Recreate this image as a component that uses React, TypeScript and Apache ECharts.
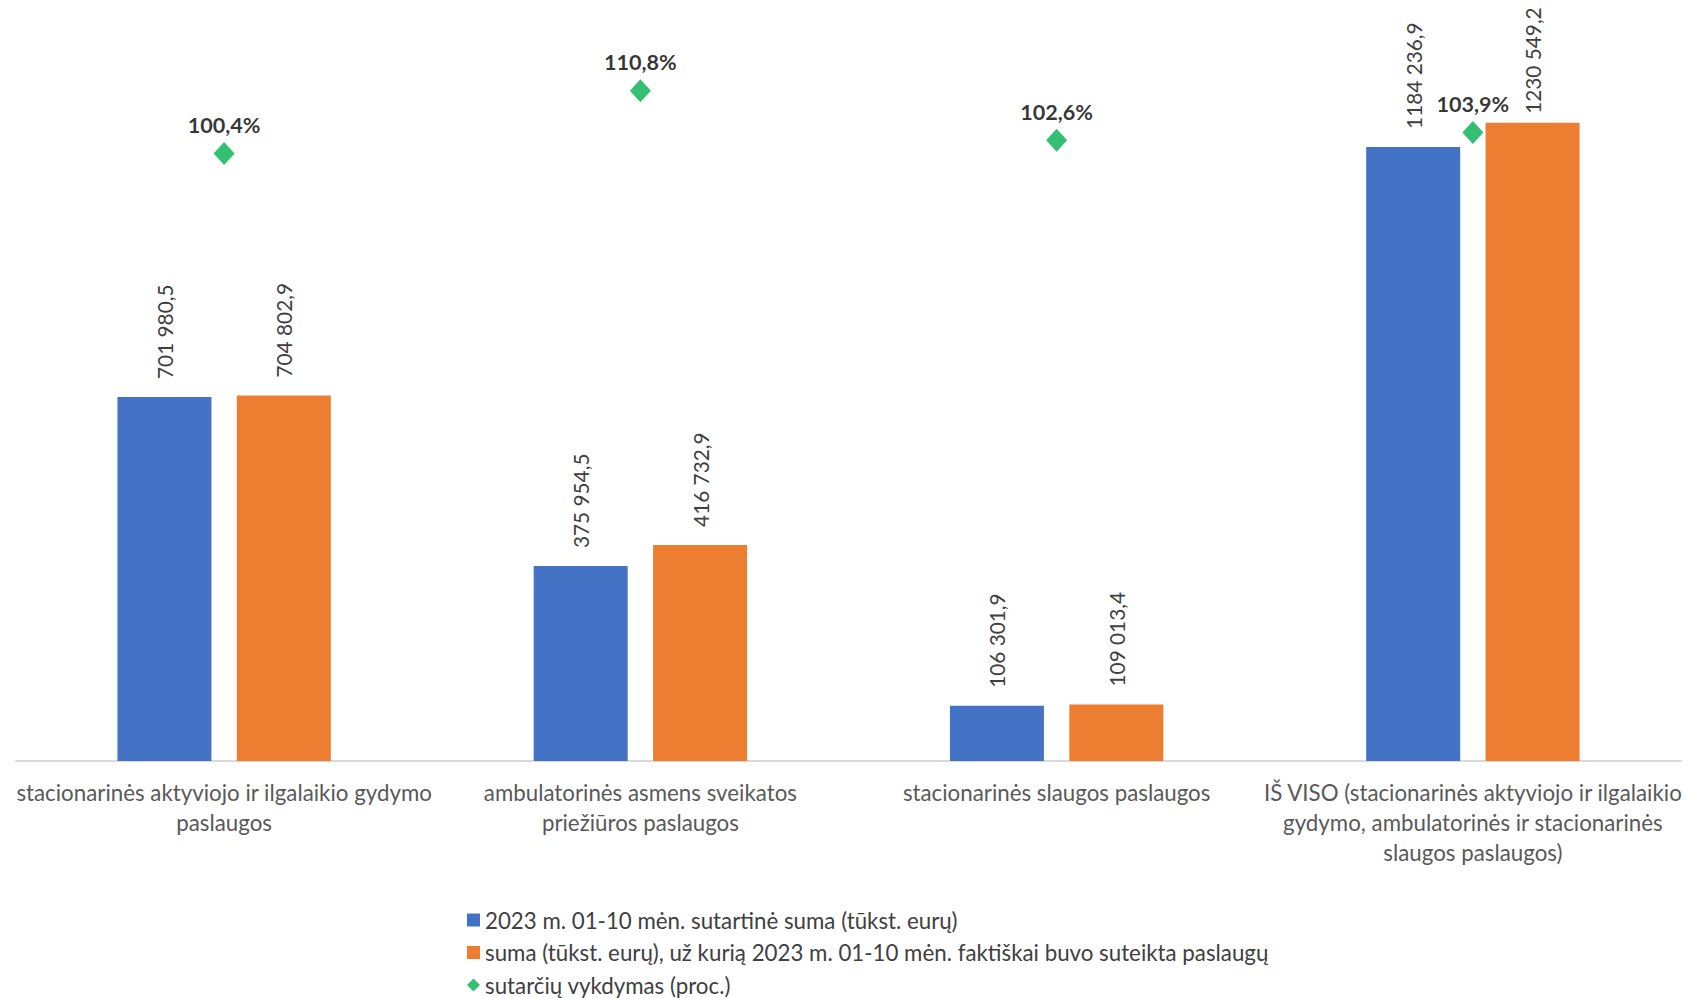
import React, { useEffect, useRef } from "react";
import * as echarts from "echarts";

const categories = [
  "stacionarinės aktyviojo ir ilgalaikio gydymo\npaslaugos",
  "ambulatorinės asmens sveikatos\npriežiūros paslaugos",
  "stacionarinės slaugos paslaugos",
  "IŠ VISO (stacionarinės aktyviojo ir ilgalaikio\ngydymo, ambulatorinės ir stacionarinės\nslaugos paslaugos)",
];
const contractSum = [701980.5, 375954.5, 106301.9, 1184236.9];
const providedSum = [704802.9, 416732.9, 109013.4, 1230549.2];
const fulfilment = [100.4, 110.8, 102.6, 103.9];

const seriesNames = [
  "2023 m. 01-10 mėn. sutartinė suma (tūkst. eurų)",
  "suma (tūkst. eurų), už kurią 2023 m. 01-10 mėn. faktiškai buvo suteikta paslaugų",
  "sutarčių vykdymas (proc.)",
];

const FONT = "Lato, 'Noto Sans', sans-serif";

function fmtNum(v: number): string {
  const fixed = v.toFixed(1);
  const [intPart, dec] = fixed.split(".");
  const n = parseInt(intPart, 10);
  let s: string;
  if (n >= 1000) {
    const hi = Math.floor(n / 1000);
    const lo = String(n % 1000).padStart(3, "0");
    s = hi + " " + lo;
  } else {
    s = String(n);
  }
  return s + "," + dec;
}

export default function App() {
  const ref = useRef<HTMLDivElement>(null);
  useEffect(() => {
    if (!ref.current) return;
    const chart = echarts.init(ref.current, null, { renderer: "svg" });
    const barLabel = {
      show: true,
      position: "top" as const,
      rotate: 90,
      align: "left" as const,
      verticalAlign: "middle" as const,
      distance: 18,
      fontSize: 20.8,
      fontFamily: FONT,
      color: "#404040",
      formatter: (p: any) => fmtNum(p.value),
    };
    const legendRowTops = [908, 940.5, 973];
    const legendIcons = ["rect", "rect", "diamond"];
    const providedData = providedSum.map((v, i) =>
      i === providedSum.length - 1 ? { value: v, label: { distance: 9 } } : v
    );
    chart.setOption({
      animation: false,
      backgroundColor: "#ffffff",
      textStyle: { fontFamily: FONT },
      grid: { left: 16, right: 22, top: 35, bottom: 237, containLabel: false },
      legend: seriesNames.map((name, i) => ({
        orient: "vertical",
        left: 467,
        top: legendRowTops[i],
        padding: 0,
        itemWidth: 13,
        itemHeight: 13,
        textStyle: { fontSize: 22.3, fontFamily: FONT, color: "#404040", lineHeight: 24 },
        data: [{ name, icon: legendIcons[i] }],
      })),
      xAxis: {
        type: "category",
        data: categories,
        axisLine: { show: true, lineStyle: { color: "#D9D9D9", width: 2 } },
        axisTick: { show: false },
        axisLabel: {
          interval: 0,
          margin: 16,
          fontSize: 22.3,
          lineHeight: 30,
          fontFamily: FONT,
          color: "#595959",
          align: "center",
        },
      },
      yAxis: [
        { type: "value", min: 0, max: 1400000, show: false, splitLine: { show: false } },
        { type: "value", min: 0, max: 120, show: false, splitLine: { show: false } },
      ],
      series: [
        {
          name: seriesNames[0],
          type: "bar",
          data: contractSum,
          barWidth: 94,
          barGap: "27%",
          itemStyle: { color: "#4472C4" },
          label: barLabel,
        },
        {
          name: seriesNames[1],
          type: "bar",
          data: providedData,
          barWidth: 94,
          barGap: "27%",
          itemStyle: { color: "#ED7D31" },
          label: barLabel,
        },
        {
          name: seriesNames[2],
          type: "scatter",
          yAxisIndex: 1,
          data: fulfilment,
          symbol: "diamond",
          symbolSize: [21, 23],
          itemStyle: { color: "#00B050" },
          z: 5,
          label: {
            show: true,
            position: "top",
            distance: 6,
            fontSize: 21.6,
            fontWeight: "bold",
            fontFamily: FONT,
            color: "#000000",
            formatter: (p: any) => p.value.toFixed(1).replace(".", ",") + "%",
          },
        },
      ],
    });
    return () => chart.dispose();
  }, []);
  return (
    <div
      ref={ref}
      style={{ position: "fixed", left: 0, top: 0, width: 1703, height: 998, background: "#fff" }}
    />
  );
}
